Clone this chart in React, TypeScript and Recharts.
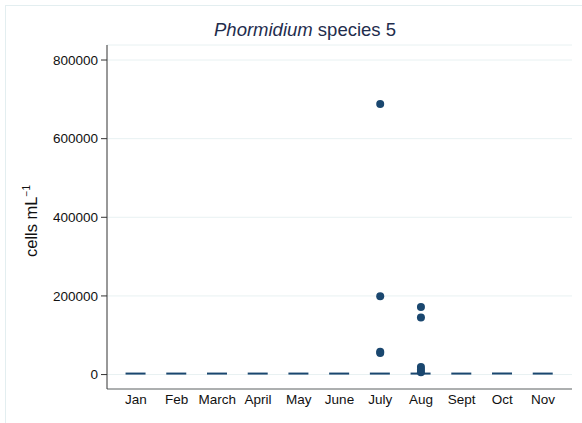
import React from "react";
import {
  Bar,
  CartesianGrid,
  ComposedChart,
  Label,
  Scatter,
  XAxis,
  YAxis,
} from "recharts";

// Stata-style box plot: all boxes collapse at 0, only outliers visible
const months = ["Jan", "Feb", "March", "April", "May", "June", "July", "Aug", "Sept", "Oct", "Nov"];
const boxLow = [0, 0, 0, 0, 0, 0, 0, 0, 0, 0, 0];
const boxHigh = [0, 0, 0, 0, 0, 0, 3000, 3000, 0, 0, 0];
const julyOutliers = [688000, 199000, 58000, 55000];
const augOutliers = [172000, 145000, 19000, 12000, 6000];
const yTicks = [0, 200000, 400000, 600000, 800000];

const NAVY = "#1a476f";
const FONT = '"Liberation Sans", Arial, Helvetica, sans-serif';

const boxRows = months.map((m, i) => ({
  pos: i + 1,
  box: [boxLow[i], boxHigh[i]] as [number, number],
}));

const outlierRows = [
  ...julyOutliers.map((v) => ({ pos: months.indexOf("July") + 1, val: v })),
  ...augOutliers.map((v) => ({ pos: months.indexOf("Aug") + 1, val: v })),
];

const Dot = (props: any) => <circle cx={props.cx} cy={props.cy} r={4} fill={NAVY} />;

const YTitle = (props: any) => {
  const vb = props.viewBox;
  const cy = vb.y + vb.height / 2 + 4;
  const cx = 37;
  return (
    <text
      x={cx}
      y={cy}
      transform={`rotate(-90, ${cx}, ${cy})`}
      textAnchor="middle"
      fontSize={16.5}
      fill="#111"
      fontFamily={FONT}
    >
      cells mL
      <tspan fontSize={10} dy={-7}>
        −1
      </tspan>
    </text>
  );
};

export default function App() {
  return (
    <div
      style={{
        position: "absolute",
        left: 0,
        top: 0,
        width: 582,
        height: 423,
        background: "#fff",
        fontFamily: FONT,
        overflow: "hidden",
      }}
    >
      <div
        style={{
          position: "absolute",
          left: 5,
          top: 5,
          width: 600,
          height: 440,
          borderTop: "1px solid #e3eef0",
          borderLeft: "1px solid #e3eef0",
        }}
      />
      <div
        style={{
          position: "absolute",
          left: 0,
          width: 610,
          top: 19,
          textAlign: "center",
          fontSize: 18.5,
          color: "#1f2d4d",
        }}
      >
        <i>Phormidium</i> species 5
      </div>
      <ComposedChart
        width={582}
        height={423}
        data={boxRows}
        margin={{ top: 45, right: 10, bottom: 0, left: 0 }}
        style={{ position: "absolute", left: 0, top: 0 }}
      >
        <CartesianGrid vertical={false} stroke="#e8f1f2" strokeWidth={1} />
        <XAxis
          dataKey="pos"
          type="number"
          domain={[0.29, 11.71]}
          ticks={months.map((_, i) => i + 1)}
          tickFormatter={(v: number) => months[v - 1] ?? ""}
          allowDataOverflow
          height={34}
          tickLine={false}
          tickSize={0}
          tickMargin={5}
          stroke="#666"
          tick={{ fill: "#111", fontSize: 13.5, fontFamily: FONT }}
        />
        <YAxis
          type="number"
          domain={[-36700, 838200]}
          ticks={yTicks}
          allowDataOverflow
          width={107}
          tickSize={6}
          tickMargin={3}
          stroke="#333"
          tick={{ fill: "#111", fontSize: 13.5, fontFamily: FONT }}
        >
          <Label content={<YTitle />} />
        </YAxis>
        <Bar
          dataKey="box"
          barSize={20}
          minPointSize={2}
          fill={NAVY}
          isAnimationActive={false}
        />
        <Scatter
          data={outlierRows}
          dataKey="val"
          shape={<Dot />}
          isAnimationActive={false}
        />
      </ComposedChart>
    </div>
  );
}
